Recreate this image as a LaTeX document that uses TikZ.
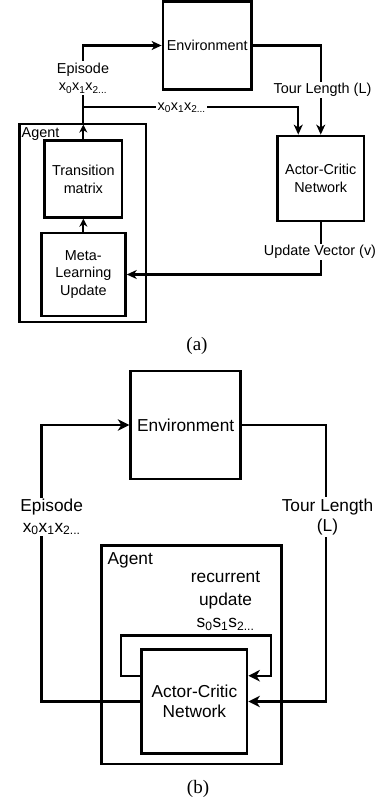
\documentclass[tikz,border=0pt]{standalone}
\usepackage{fontspec}
\setmainfont{Liberation Sans}
\newfontfamily\serifcap{Liberation Serif}
\usetikzlibrary{arrows.meta}
\newcommand\xseq{x\textsubscript{0}x\textsubscript{1}x\textsubscript{2...}}
\newcommand\sseq{s\textsubscript{0}s\textsubscript{1}s\textsubscript{2...}}
\begin{document}
\begin{tikzpicture}[x=1pt,y=-1pt,
  box/.style={draw, line width=2.8pt, inner sep=0pt, align=center},
  frame/.style={draw, line width=2.3pt, inner sep=0pt},
  conn/.style={line width=2.2pt},
  arra/.style={conn, -{Stealth[length=10pt,width=9pt,inset=3pt]}},
  arrs/.style={conn, -{Stealth[length=8pt,width=8pt,inset=2.5pt]}},
  arrb/.style={conn, line width=2.4pt, -{Stealth[length=11.5pt,width=11.5pt,inset=3.5pt]}},
  fa/.style={font=\fontsize{14.4}{17.8}\selectfont},
  fb/.style={font=\fontsize{17.3}{20.5}\selectfont},
  lbl/.style={fill=white, inner sep=1.5pt, align=center},
  captext/.style={font=\serifcap\fontsize{19}{21}\selectfont}]
\useasboundingbox (0,0) rectangle (380,803);

% ---------- (a) ----------
\node[box, fa, minimum width=88.5pt, minimum height=88pt] (envA) at (207.25,45.5) {Environment};
\node[box, fa, minimum width=86.5pt, minimum height=85pt] (acA) at (320.75,178.5) {Actor-Critic\\Network};
\node[frame, minimum width=126.5pt, minimum height=198.3pt] (agA) at (82.75,222.85) {};
\node[box, fa, minimum width=77.3pt, minimum height=76.6pt] (tmA) at (83.35,179) {Transition\\matrix};
\node[box, fa, minimum width=84pt, minimum height=83pt] (mlA) at (83.35,274.5) {Meta-\\Learning\\Update};
\node[fa, anchor=base west, inner sep=0pt] (agAlbl) at (21.5,137) {Agent};

\coordinate (aTop) at ([yshift=-2pt]tmA.north |- agA.north);
\coordinate (yj) at (0,106.7);
\coordinate (jA) at (tmA.north |- yj);
\draw[arrs] (tmA.north) -- (aTop);
\draw[arra] (aTop) |- (envA.west);
\draw[arra] (jA) -| ([xshift=-22.5pt]acA.north);
\draw[arra] (envA.east) -| (acA.north);
\draw[arra] (acA.south) |- (mlA.east);
\draw[arrs] (mlA.north) -- (tmA.south);

\node[lbl, fa] (epA) at (83,78) {Episode\\\xseq};
\node[lbl, fa] (xsA) at (181.7,107.5) {\xseq};
\node[lbl, fa] (tlA) at (322.5,90) {Tour Length (L)};
\node[lbl, fa] (uvA) at (320,252) {Update Vector (v)};
\node[captext] (capA) at (197,346) {(a)};

% ---------- (b) ----------
\node[box, fb, minimum width=110pt, minimum height=108pt] (envB) at (185.7,425) {Environment};
\node[frame, line width=2.6pt, minimum width=180pt, minimum height=218.7pt] (agB) at (191.3,654.65) {};
\node[box, fb, minimum width=105.2pt, minimum height=103.6pt] (acB) at (194.4,701.5) {Actor-Critic\\Network};
\node[fb, anchor=base west, inner sep=0pt] (agBlbl) at (107.5,564.5) {Agent};

\coordinate (lx) at (41.3,0);
\coordinate (rx) at (325.8,0);
\coordinate (lpy) at (0,675.7);
\coordinate (lpA) at (120.7,635.3);
\coordinate (lpB) at (270.7,635.3);
\draw[arrb] (acB.west) -- (acB.west -| lx) |- (envB.west);
\draw[arrb] (envB.east) -- (envB.east -| rx) |- (acB.east);
\draw[arrb] (acB.west |- lpy) -- (lpA |- lpy) -- (lpA) -- (lpB) -- (lpB |- lpy) -- (acB.east |- lpy);

\node[lbl, fb] (epB) at (51.7,517) {Episode\\\xseq};
\node[lbl, fb] (tlB) at (327.5,517) {Tour Length\\(L)};
\node[fb, align=center, inner sep=0pt, font=\fontsize{17.3}{22.5}\selectfont] (ruB) at (225.5,601) {recurrent\\update\\\sseq};
\node[captext] (capB) at (198,789) {(b)};
\end{tikzpicture}
\end{document}
